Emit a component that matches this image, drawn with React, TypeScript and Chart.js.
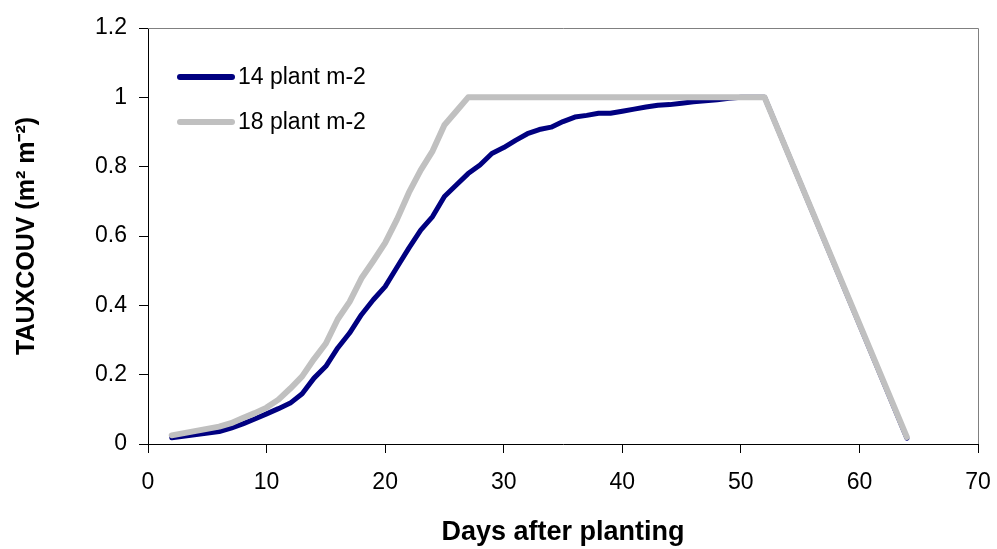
import React, { useEffect, useRef } from "react";
import { Chart, registerables } from "chart.js";

Chart.register(...registerables);

const seriesNames = ["14 plant m-2", "18 plant m-2"];

const daysLow = [
  2, 6, 7, 8, 9, 10, 11, 12, 13, 14, 15, 16, 17, 18, 19, 20, 21, 22, 23, 24, 25, 26,
  27, 28, 29, 30, 31, 32, 33, 34, 35, 36, 37, 38, 39, 40, 41, 42, 43, 44, 45, 46, 47,
  48, 49, 50, 51, 52, 64,
];
const coverLow = [
  0.018, 0.036, 0.046, 0.058, 0.072, 0.087, 0.102, 0.118, 0.145, 0.19, 0.224, 0.277,
  0.32, 0.373, 0.416, 0.454, 0.51, 0.565, 0.617, 0.656, 0.714, 0.747, 0.78, 0.805,
  0.838, 0.855, 0.876, 0.895, 0.907, 0.914, 0.93, 0.943, 0.948, 0.954, 0.954, 0.96,
  0.966, 0.972, 0.977, 0.979, 0.983, 0.987, 0.99, 0.993, 0.997, 1, 1, 1, 0.017,
];

const daysHigh = [
  2, 6, 7, 8, 9, 10, 11, 12, 13, 14, 15, 16, 17, 18, 19, 20, 21, 22, 23, 24, 25, 26,
  27, 52, 64,
];
const coverHigh = [
  0.025, 0.05, 0.06, 0.075, 0.089, 0.105, 0.128, 0.16, 0.195, 0.245, 0.29, 0.36, 0.41,
  0.478, 0.528, 0.58, 0.648, 0.725, 0.79, 0.845, 0.92, 0.96, 1, 1, 0.02,
];

const xTitle = "Days after planting";
const yTitle = "TAUXCOUV (m\u00B2 m\u207B\u00B2)";

const NAVY = "#000080";
const SILVER = "#C0C0C0";
const FONT = "'Liberation Sans', Arial, sans-serif";

export default function App() {
  const ref = useRef<HTMLCanvasElement | null>(null);

  useEffect(() => {
    if (!ref.current) return;

    const frame = {
      id: "frame",
      beforeDatasetsDraw(chart: any) {
        const { ctx, chartArea } = chart;
        ctx.save();
        ctx.strokeStyle = "#808080";
        ctx.lineWidth = 1;
        ctx.beginPath();
        ctx.moveTo(chartArea.left, chartArea.top + 0.5);
        ctx.lineTo(chartArea.right + 0.5, chartArea.top + 0.5);
        ctx.lineTo(chartArea.right + 0.5, chartArea.bottom);
        ctx.stroke();
        ctx.restore();
      },
    };

    const legendIn = {
      id: "legendIn",
      afterDraw(chart: any) {
        const { ctx, chartArea } = chart;
        const colors = [NAVY, SILVER];
        ctx.save();
        seriesNames.forEach((name, i) => {
          const y = chartArea.top + 49 + i * 45;
          ctx.strokeStyle = colors[i];
          ctx.lineWidth = 6;
          ctx.lineCap = "round";
          ctx.beginPath();
          ctx.moveTo(chartArea.left + 32, y);
          ctx.lineTo(chartArea.left + 84, y);
          ctx.stroke();
          ctx.fillStyle = "#000";
          ctx.font = `23px ${FONT}`;
          ctx.textBaseline = "middle";
          ctx.textAlign = "left";
          ctx.fillText(name, chartArea.left + 90, y + 1);
        });
        ctx.restore();
      },
    };

    const chart = new Chart(ref.current, {
      type: "line",
      data: {
        datasets: [
          {
            label: seriesNames[0],
            data: daysLow.map((d, i) => ({ x: d, y: coverLow[i] })),
            borderColor: NAVY,
            backgroundColor: NAVY,
            borderWidth: 5,
            pointRadius: 0,
            tension: 0,
            borderCapStyle: "round",
            borderJoinStyle: "round",
            order: 2,
          },
          {
            label: seriesNames[1],
            data: daysHigh.map((d, i) => ({ x: d, y: coverHigh[i] })),
            borderColor: SILVER,
            backgroundColor: SILVER,
            borderWidth: 6,
            pointRadius: 0,
            tension: 0,
            borderCapStyle: "round",
            borderJoinStyle: "round",
            order: 1,
          },
        ],
      },
      options: {
        responsive: false,
        animation: false,
        events: [],
        layout: { padding: { left: 0, top: 28, right: 19, bottom: 0 } },
        plugins: {
          legend: { display: false },
          tooltip: { enabled: false },
        },
        scales: {
          x: {
            type: "linear",
            min: 0,
            max: 70,
            afterFit(scale: any) {
              scale.height = 105;
              scale.paddingLeft = 0;
              scale.paddingRight = 0;
            },
            ticks: {
              stepSize: 10,
              color: "#000",
              padding: 16,
              maxRotation: 0,
              font: { family: FONT, size: 23 },
            },
            grid: {
              display: true,
              drawOnChartArea: false,
              drawTicks: true,
              tickLength: 9,
              color: "#000",
            },
            border: { display: true, color: "#000", width: 1 },
            title: {
              display: true,
              text: xTitle,
              color: "#000",
              font: { family: FONT, size: 27, weight: "bold" },
              padding: { top: 0, bottom: 0 },
            },
          },
          y: {
            type: "linear",
            min: 0,
            max: 1.2,
            afterFit(scale: any) {
              scale.width = 148;
              scale.paddingTop = 0;
              scale.paddingBottom = 0;
            },
            ticks: {
              stepSize: 0.2,
              color: "#000",
              padding: 12,
              font: { family: FONT, size: 23 },
              callback: (v: any) => String(Number(Number(v).toFixed(1))),
            },
            grid: {
              display: true,
              drawOnChartArea: false,
              drawTicks: true,
              tickLength: 9,
              color: "#000",
            },
            border: { display: true, color: "#000", width: 1 },
            title: {
              display: true,
              text: yTitle,
              color: "#000",
              font: { family: FONT, size: 25, weight: "bold" },
              padding: { top: 12, bottom: 0 },
            },
          },
        },
      },
      plugins: [frame, legendIn],
    } as any);

    return () => chart.destroy();
  }, []);

  return (
    <div style={{ position: "fixed", left: 0, top: 0, width: 997, height: 549, background: "#fff" }}>
      <canvas ref={ref} width={997} height={549} />
    </div>
  );
}
